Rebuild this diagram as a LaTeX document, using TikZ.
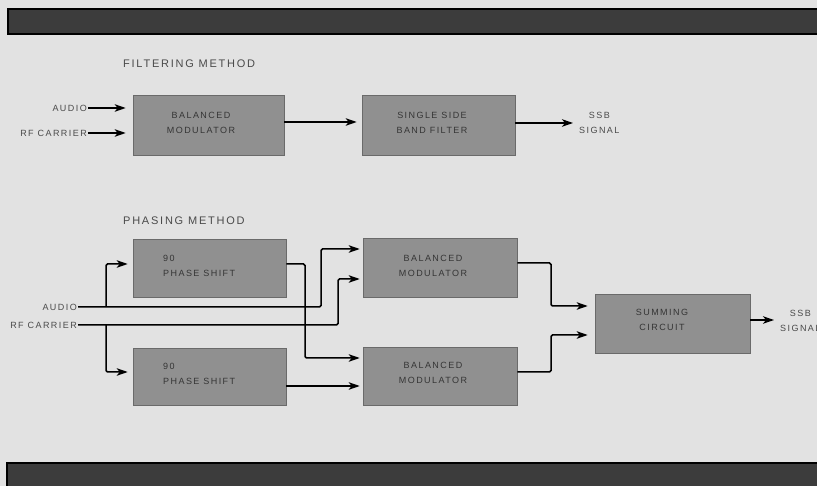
\documentclass[tikz,border=0pt]{standalone}
\usepackage{fontspec}
\setmainfont{Liberation Sans}
\newfontfamily\lbfont{Liberation Sans}[LetterSpace=16]
\usetikzlibrary{arrows.meta}
\definecolor{bg}{HTML}{E2E2E2}
\definecolor{boxgray}{HTML}{909090}
\definecolor{boxedge}{HTML}{6A6A6A}
\definecolor{bargray}{HTML}{3C3C3C}
\definecolor{txt}{HTML}{4A4A4A}
\definecolor{boxtxt}{HTML}{353535}
\begin{document}
\begin{tikzpicture}[x=1pt,y=-1pt,
  blk/.style={draw=boxedge,line width=0.6pt,fill=boxgray,inner sep=0pt},
  lbl/.style={font=\lbfont\fontsize{9}{15}\selectfont,text=txt,inner sep=1pt},
  btxt/.style={font=\lbfont\fontsize{9}{15}\selectfont,text=boxtxt,inner sep=0pt},
  hdr/.style={font=\lbfont\fontsize{11}{13}\selectfont,text=txt,inner sep=0pt,anchor=west},
  arr/.style={line width=1.5pt,-{Stealth[length=11pt,width=7.5pt,inset=3pt]},shorten >=5pt},
  wire/.style={line width=1.5pt,rounded corners=1.5pt},
  bar/.style={draw=black,line width=1.5pt,fill=bargray}]
\useasboundingbox (0,0) rectangle (817,486);
\clip (0,0) rectangle (817,486);
\fill[bg] (0,0) rectangle (817,486);
% bars
\path[bar] (8,9) rectangle (820,34);
\path[bar] (7,463) rectangle (820,492);

% ---------- Filtering method ----------
\node[hdr] (hF) at (123,64) {FILTERING METHOD};
\node[lbl,anchor=east] (audioF) at (88,108) {AUDIO};
\node[lbl,anchor=east] (rfF) at (88,133) {RF CARRIER};
\node[blk,minimum width=151pt,minimum height=60pt] (bmF) at (208.5,125) {};
\node[btxt,align=center] (bmFt) at (201,122.5) {BALANCED\\MODULATOR};
\node[blk,minimum width=153pt,minimum height=60pt] (sbf) at (438.5,125) {};
\node[btxt,align=center] (sbft) at (432,122.5) {SINGLE SIDE\\BAND FILTER};
\node[lbl,align=center,anchor=west] (ssbF) at (578,123) {SSB\\SIGNAL};

\coordinate (bmFo) at ([yshift=3pt]bmF.east);
\coordinate (sbfo) at ([yshift=2pt]sbf.east);

\draw[arr,shorten >=7pt] (audioF.east) -- (bmF.west |- audioF.east);
\draw[arr,shorten >=7pt] (rfF.east) -- (bmF.west |- rfF.east);
\draw[arr] (bmFo) -- (sbf.west |- bmFo);
\draw[arr] (sbfo) -- (ssbF.west |- sbfo);

% ---------- Phasing method ----------
\node[hdr] (hP) at (123,221) {PHASING METHOD};
\node[lbl,anchor=east] (audioP) at (78,307) {AUDIO};
\node[lbl,anchor=east] (rfP) at (78,325) {RF CARRIER};

\node[blk,minimum width=153pt,minimum height=58pt] (ps1) at (209.5,268) {};
\node[btxt,align=left,anchor=west] (ps1t) at (163,265.5) {90\\PHASE SHIFT};
\node[blk,minimum width=153pt,minimum height=57pt] (ps2) at (209.5,376.5) {};
\node[btxt,align=left,anchor=west] (ps2t) at (163,374) {90\\PHASE SHIFT};

\node[blk,minimum width=154pt,minimum height=59pt] (bm1) at (440,267.5) {};
\node[btxt,align=center] (bm1t) at (433,266) {BALANCED\\MODULATOR};
\node[blk,minimum width=154pt,minimum height=58pt] (bm2) at (440,376) {};
\node[btxt,align=center] (bm2t) at (433,373) {BALANCED\\MODULATOR};

\node[blk,minimum width=155pt,minimum height=59pt] (sum) at (672.5,323.5) {};
\node[btxt,align=center] (sumt) at (662,320) {SUMMING\\CIRCUIT};
\node[lbl,align=center,anchor=west] (ssbP) at (779,320.5) {SSB\\SIGNAL};

% junction / bend coordinates
\coordinate (aj) at (106,307);
\coordinate (rj) at (106,325);
\coordinate (aT) at (321,249);
\coordinate (rT) at (338,279);
\coordinate (pT) at (305,358);
\coordinate (m1) at (551,306);
\coordinate (m2) at (551,335);
\coordinate (ps1o) at ([yshift=4pt]ps1.east);
\coordinate (ps2o) at ([yshift=-9.5pt]ps2.east);
\coordinate (bm1o) at ([yshift=4.5pt]bm1.east);
\coordinate (bm2o) at ([yshift=4pt]bm2.east);
\coordinate (sumo) at ([yshift=3.5pt]sum.east);
\coordinate (ps1i) at ([yshift=4pt]ps1.west);
\coordinate (ps2i) at ([yshift=4.5pt]ps2.west);

% audio and RF lines to top balanced modulator
\draw[wire,arr,shorten >=3pt] (audioP.east) -| (aT) -- (bm1.west |- aT);
\draw[wire,arr,shorten >=3pt] (rfP.east) -| (rT) -- (bm1.west |- rT);
% branches to phase shifters
\draw[wire,arr] (aj) |- (ps1i);
\draw[wire,arr] (rj) |- (ps2i);
% phase shifter outputs
\draw[wire,arr,shorten >=3pt] (ps1o) -| (pT) -- (bm2.west |- pT);
\draw[wire,arr,shorten >=3pt] (ps2o) -- (bm2.west |- ps2o);
% modulator outputs to summing circuit
\draw[wire,arr,shorten >=7pt] (bm1o) -| (m1) -- (sum.west |- m1);
\draw[wire,arr,shorten >=7pt] (bm2o) -| (m2) -- (sum.west |- m2);
% output
\draw[arr] (sumo) -- (ssbP.west |- sumo);
\end{tikzpicture}
\end{document}
